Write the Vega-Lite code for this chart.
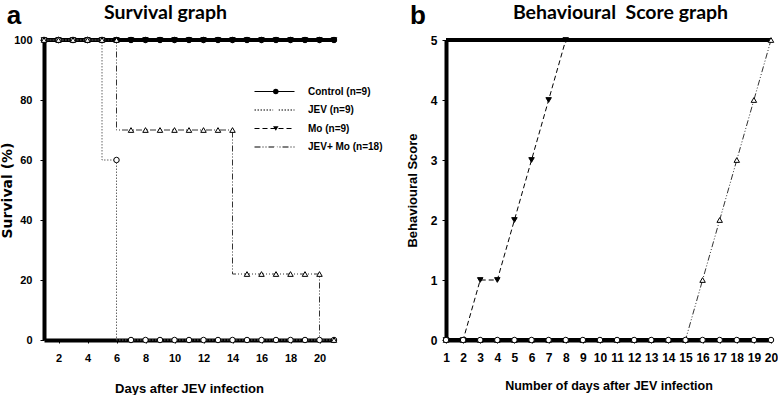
{
  "$schema": "https://vega.github.io/schema/vega-lite/v6.json",
  "padding": {"left": 0, "top": 2, "right": 0, "bottom": 0},
  "background": "white",
  "config": {
    "view": {"stroke": null},
    "axis": {"grid": false, "domainColor": "black", "tickColor": "black", "labelColor": "black", "titleColor": "black"}
  },
  "datasets": {
    "survival": [
      {"group": "Control (n=9)", "day": 1, "survival": 100}, {"group": "Control (n=9)", "day": 2, "survival": 100},
      {"group": "Control (n=9)", "day": 3, "survival": 100}, {"group": "Control (n=9)", "day": 4, "survival": 100},
      {"group": "Control (n=9)", "day": 5, "survival": 100}, {"group": "Control (n=9)", "day": 6, "survival": 100},
      {"group": "Control (n=9)", "day": 7, "survival": 100}, {"group": "Control (n=9)", "day": 8, "survival": 100},
      {"group": "Control (n=9)", "day": 9, "survival": 100}, {"group": "Control (n=9)", "day": 10, "survival": 100},
      {"group": "Control (n=9)", "day": 11, "survival": 100}, {"group": "Control (n=9)", "day": 12, "survival": 100},
      {"group": "Control (n=9)", "day": 13, "survival": 100}, {"group": "Control (n=9)", "day": 14, "survival": 100},
      {"group": "Control (n=9)", "day": 15, "survival": 100}, {"group": "Control (n=9)", "day": 16, "survival": 100},
      {"group": "Control (n=9)", "day": 17, "survival": 100}, {"group": "Control (n=9)", "day": 18, "survival": 100},
      {"group": "Control (n=9)", "day": 19, "survival": 100}, {"group": "Control (n=9)", "day": 20, "survival": 100},
      {"group": "Control (n=9)", "day": 21, "survival": 100},
      {"group": "Mo (n=9)", "day": 1, "survival": 100}, {"group": "Mo (n=9)", "day": 2, "survival": 100},
      {"group": "Mo (n=9)", "day": 3, "survival": 100}, {"group": "Mo (n=9)", "day": 4, "survival": 100},
      {"group": "Mo (n=9)", "day": 5, "survival": 100}, {"group": "Mo (n=9)", "day": 6, "survival": 100},
      {"group": "Mo (n=9)", "day": 7, "survival": 100}, {"group": "Mo (n=9)", "day": 8, "survival": 100},
      {"group": "Mo (n=9)", "day": 9, "survival": 100}, {"group": "Mo (n=9)", "day": 10, "survival": 100},
      {"group": "Mo (n=9)", "day": 11, "survival": 100}, {"group": "Mo (n=9)", "day": 12, "survival": 100},
      {"group": "Mo (n=9)", "day": 13, "survival": 100}, {"group": "Mo (n=9)", "day": 14, "survival": 100},
      {"group": "Mo (n=9)", "day": 15, "survival": 100}, {"group": "Mo (n=9)", "day": 16, "survival": 100},
      {"group": "Mo (n=9)", "day": 17, "survival": 100}, {"group": "Mo (n=9)", "day": 18, "survival": 100},
      {"group": "Mo (n=9)", "day": 19, "survival": 100}, {"group": "Mo (n=9)", "day": 20, "survival": 100},
      {"group": "Mo (n=9)", "day": 21, "survival": 100},
      {"group": "JEV (n=9)", "day": 1, "survival": 100}, {"group": "JEV (n=9)", "day": 2, "survival": 100},
      {"group": "JEV (n=9)", "day": 3, "survival": 100}, {"group": "JEV (n=9)", "day": 4, "survival": 100},
      {"group": "JEV (n=9)", "day": 5, "survival": 100}, {"group": "JEV (n=9)", "day": 6, "survival": 60},
      {"group": "JEV (n=9)", "day": 7, "survival": 0}, {"group": "JEV (n=9)", "day": 8, "survival": 0},
      {"group": "JEV (n=9)", "day": 9, "survival": 0}, {"group": "JEV (n=9)", "day": 10, "survival": 0},
      {"group": "JEV (n=9)", "day": 11, "survival": 0}, {"group": "JEV (n=9)", "day": 12, "survival": 0},
      {"group": "JEV (n=9)", "day": 13, "survival": 0}, {"group": "JEV (n=9)", "day": 14, "survival": 0},
      {"group": "JEV (n=9)", "day": 15, "survival": 0}, {"group": "JEV (n=9)", "day": 16, "survival": 0},
      {"group": "JEV (n=9)", "day": 17, "survival": 0}, {"group": "JEV (n=9)", "day": 18, "survival": 0},
      {"group": "JEV (n=9)", "day": 19, "survival": 0}, {"group": "JEV (n=9)", "day": 20, "survival": 0},
      {"group": "JEV (n=9)", "day": 21, "survival": 0},
      {"group": "JEV+ Mo (n=18)", "day": 1, "survival": 100}, {"group": "JEV+ Mo (n=18)", "day": 2, "survival": 100},
      {"group": "JEV+ Mo (n=18)", "day": 3, "survival": 100}, {"group": "JEV+ Mo (n=18)", "day": 4, "survival": 100},
      {"group": "JEV+ Mo (n=18)", "day": 5, "survival": 100}, {"group": "JEV+ Mo (n=18)", "day": 6, "survival": 100},
      {"group": "JEV+ Mo (n=18)", "day": 7, "survival": 70}, {"group": "JEV+ Mo (n=18)", "day": 8, "survival": 70},
      {"group": "JEV+ Mo (n=18)", "day": 9, "survival": 70}, {"group": "JEV+ Mo (n=18)", "day": 10, "survival": 70},
      {"group": "JEV+ Mo (n=18)", "day": 11, "survival": 70}, {"group": "JEV+ Mo (n=18)", "day": 12, "survival": 70},
      {"group": "JEV+ Mo (n=18)", "day": 13, "survival": 70}, {"group": "JEV+ Mo (n=18)", "day": 14, "survival": 70},
      {"group": "JEV+ Mo (n=18)", "day": 15, "survival": 22}, {"group": "JEV+ Mo (n=18)", "day": 16, "survival": 22},
      {"group": "JEV+ Mo (n=18)", "day": 17, "survival": 22}, {"group": "JEV+ Mo (n=18)", "day": 18, "survival": 22},
      {"group": "JEV+ Mo (n=18)", "day": 19, "survival": 22}, {"group": "JEV+ Mo (n=18)", "day": 20, "survival": 22},
      {"group": "JEV+ Mo (n=18)", "day": 21, "survival": 0}
    ],
    "behaviour": [
      {"group": "Mo", "day": 1, "score": 0}, {"group": "Mo", "day": 2, "score": 0},
      {"group": "Mo", "day": 3, "score": 1}, {"group": "Mo", "day": 4, "score": 1},
      {"group": "Mo", "day": 5, "score": 2}, {"group": "Mo", "day": 6, "score": 3},
      {"group": "Mo", "day": 7, "score": 4}, {"group": "Mo", "day": 8, "score": 5},
      {"group": "JEV+ Mo", "day": 1, "score": 0}, {"group": "JEV+ Mo", "day": 2, "score": 0},
      {"group": "JEV+ Mo", "day": 3, "score": 0}, {"group": "JEV+ Mo", "day": 4, "score": 0},
      {"group": "JEV+ Mo", "day": 5, "score": 0}, {"group": "JEV+ Mo", "day": 6, "score": 0},
      {"group": "JEV+ Mo", "day": 7, "score": 0}, {"group": "JEV+ Mo", "day": 8, "score": 0},
      {"group": "JEV+ Mo", "day": 9, "score": 0}, {"group": "JEV+ Mo", "day": 10, "score": 0},
      {"group": "JEV+ Mo", "day": 11, "score": 0}, {"group": "JEV+ Mo", "day": 12, "score": 0},
      {"group": "JEV+ Mo", "day": 13, "score": 0}, {"group": "JEV+ Mo", "day": 14, "score": 0},
      {"group": "JEV+ Mo", "day": 15, "score": 0}, {"group": "JEV+ Mo", "day": 16, "score": 1},
      {"group": "JEV+ Mo", "day": 17, "score": 2}, {"group": "JEV+ Mo", "day": 18, "score": 3},
      {"group": "JEV+ Mo", "day": 19, "score": 4}, {"group": "JEV+ Mo", "day": 20, "score": 5},
      {"group": "Control", "day": 1, "score": 0}, {"group": "Control", "day": 2, "score": 0},
      {"group": "Control", "day": 3, "score": 0}, {"group": "Control", "day": 4, "score": 0},
      {"group": "Control", "day": 5, "score": 0}, {"group": "Control", "day": 6, "score": 0},
      {"group": "Control", "day": 7, "score": 0}, {"group": "Control", "day": 8, "score": 0},
      {"group": "Control", "day": 9, "score": 0}, {"group": "Control", "day": 10, "score": 0},
      {"group": "Control", "day": 11, "score": 0}, {"group": "Control", "day": 12, "score": 0},
      {"group": "Control", "day": 13, "score": 0}, {"group": "Control", "day": 14, "score": 0},
      {"group": "Control", "day": 15, "score": 0}, {"group": "Control", "day": 16, "score": 0},
      {"group": "Control", "day": 17, "score": 0}, {"group": "Control", "day": 18, "score": 0},
      {"group": "Control", "day": 19, "score": 0}, {"group": "Control", "day": 20, "score": 0}
    ]
  },
  "bounds": "flush",
  "spacing": 112,
  "resolve": {
    "scale": {"strokeDash": "independent", "color": "independent", "strokeWidth": "independent", "shape": "independent", "fill": "independent"},
    "legend": {"strokeDash": "independent", "color": "independent", "strokeWidth": "independent", "shape": "independent", "fill": "independent"}
  },
  "hconcat": [
    {
      "width": 290,
      "height": 300,
      "data": {"name": "survival"},
      "resolve": {"axis": {"x": "independent", "y": "independent"}},
      "layer": [
        {
          "mark": {"type": "line", "interpolate": "step-before"},
          "encoding": {
            "x": {
              "field": "day", "type": "quantitative",
              "scale": {"domain": [1, 21], "nice": false, "zero": false},
              "axis": {
                "orient": "bottom", "values": [2, 4, 6, 8, 10, 12, 14, 16, 18, 20],
                "title": "Days after JEV infection",
                "titleFont": "Liberation Sans", "titleFontSize": 13, "titleFontWeight": "bold",
                "titleY": 48, "titleBaseline": "middle",
                "labelFont": "Liberation Sans", "labelFontSize": 11, "labelFontWeight": "bold",
                "labelPadding": 9, "tickSize": 3, "domainWidth": 4, "labelFlush": false
              }
            },
            "y": {
              "field": "survival", "type": "quantitative",
              "scale": {"domain": [0, 100], "nice": false},
              "axis": {
                "orient": "left", "values": [0, 20, 40, 60, 80, 100],
                "title": "Survival (%)",
                "titleFont": "DejaVu Sans", "titleFontSize": 14, "titleFontWeight": "bold",
                "titleX": -37, "titleY": 150, "titleBaseline": "middle", "titleAlign": "center",
                "labelFont": "Liberation Sans", "labelFontSize": 11, "labelFontWeight": "bold",
                "labelPadding": 8, "tickSize": 4, "domainWidth": 4
              }
            },
            "strokeDash": {
              "field": "group", "type": "nominal",
              "scale": {"domain": ["Control (n=9)", "JEV (n=9)", "Mo (n=9)", "JEV+ Mo (n=18)"], "range": [[1, 0], [1.5, 1.5], [5, 3], [6, 2, 1, 2, 1, 2]]},
              "legend": {
                "orient": "none", "legendX": 225.5, "legendY": 46.5, "title": null, "padding": 0,
                "symbolType": "M-5,0H5", "symbolSize": 64, "symbolStrokeWidth": 1.2, "symbolStrokeColor": "black",
                "labelFont": "Liberation Sans", "labelFontWeight": "bold", "labelFontSize": 10, "labelColor": "black",
                "labelOffset": 28.5, "rowPadding": 8.5
              }
            },
            "color": {
              "field": "group", "type": "nominal",
              "scale": {"domain": ["JEV+ Mo (n=18)", "Mo (n=9)", "JEV (n=9)", "Control (n=9)"], "range": ["#333333", "black", "#666666", "black"]},
              "legend": null
            },
            "strokeWidth": {
              "field": "group", "type": "nominal",
              "scale": {"type": "ordinal", "domain": ["JEV (n=9)", "Control (n=9)", "Mo (n=9)", "JEV+ Mo (n=18)"], "range": [1, 4, 1, 1]},
              "legend": null
            }
          }
        },
        {
          "mark": {"type": "point", "filled": false, "color": "black", "strokeWidth": 1, "size": 30, "opacity": 1},
          "encoding": {
            "x": {
              "field": "day", "type": "quantitative",
              "axis": {
                "orient": "top", "title": "Survival graph", "labels": false, "ticks": false, "domain": false,
                "titleFont": "Lato", "titleFontSize": 19.5, "titleFontWeight": "bold",
                "titleX": 121, "titleY": -22, "titleBaseline": "alphabetic", "titleAlign": "center"
              }
            },
            "y": {
              "field": "survival", "type": "quantitative",
              "axis": {
                "orient": "right", "title": "a", "titleAngle": 0, "labels": false, "ticks": false, "domain": false,
                "titleFont": "Liberation Sans", "titleFontSize": 26, "titleFontWeight": "bold",
                "titleX": -320.5, "titleY": -17, "titleBaseline": "alphabetic", "titleAlign": "center"
              }
            },
            "shape": {
              "field": "group", "type": "nominal",
              "scale": {"domain": ["Mo (n=9)", "Control (n=9)", "JEV+ Mo (n=18)", "JEV (n=9)"], "range": ["triangle-down", "circle", "triangle-up", "circle"]},
              "legend": {
                "orient": "none", "legendX": 226.8, "legendY": 46.5, "title": null, "padding": 0,
                "values": ["Control (n=9)", "JEV (n=9)", "Mo (n=9)", "JEV+ Mo (n=18)"],
                "symbolSize": 30, "symbolStrokeWidth": 1, "symbolStrokeColor": "black", "symbolOpacity": 1,
                "labelFont": "Liberation Sans", "labelFontSize": 10, "labelExpr": "''", "rowPadding": 8.5
              }
            },
            "fill": {
              "field": "group", "type": "nominal",
              "scale": {"domain": ["Mo (n=9)", "Control (n=9)", "JEV+ Mo (n=18)", "JEV (n=9)"], "range": ["black", "black", "white", "white"]},
              "legend": {
                "orient": "none", "legendX": 226.8, "legendY": 46.5, "title": null, "padding": 0,
                "values": ["Control (n=9)", "JEV (n=9)", "Mo (n=9)", "JEV+ Mo (n=18)"],
                "symbolSize": 30, "symbolStrokeWidth": 1, "symbolStrokeColor": "black", "symbolOpacity": 1,
                "labelFont": "Liberation Sans", "labelFontSize": 10, "labelExpr": "''", "rowPadding": 8.5
              }
            }
          }
        }
      ]
    },
    {
      "width": 325,
      "height": 300,
      "data": {"name": "behaviour"},
      "resolve": {"axis": {"x": "independent", "y": "independent"}},
      "layer": [
        {
          "mark": {"type": "line"},
          "encoding": {
            "x": {
              "field": "day", "type": "quantitative",
              "scale": {"domain": [1, 20], "nice": false, "zero": false},
              "axis": {
                "orient": "bottom", "values": [1, 2, 3, 4, 5, 6, 7, 8, 9, 10, 11, 12, 13, 14, 15, 16, 17, 18, 19, 20],
                "title": "Number of days after JEV infection",
                "titleFont": "Liberation Sans", "titleFontSize": 12.5, "titleFontWeight": "bold",
                "titleY": 45, "titleBaseline": "middle",
                "labelFont": "Liberation Sans", "labelFontSize": 12, "labelFontWeight": "bold",
                "labelPadding": 9, "tickSize": 3, "domainWidth": 4, "labelFlush": false, "labelOverlap": false
              }
            },
            "y": {
              "field": "score", "type": "quantitative",
              "scale": {"domain": [0, 5], "nice": false},
              "axis": {
                "orient": "left", "values": [0, 1, 2, 3, 4, 5],
                "title": "Behavioural Score",
                "titleFont": "Liberation Sans", "titleFontSize": 13, "titleFontWeight": "bold",
                "titleX": -34, "titleY": 150, "titleBaseline": "middle", "titleAlign": "center",
                "labelFont": "Liberation Sans", "labelFontSize": 12, "labelFontWeight": "bold",
                "labelPadding": 5, "tickSize": 4, "domainWidth": 4
              }
            },
            "strokeDash": {
              "field": "group", "type": "nominal",
              "scale": {"domain": ["Control", "Mo", "JEV+ Mo"], "range": [[1, 0], [5, 3], [6, 2, 1, 2, 1, 2]]},
              "legend": null
            },
            "color": {
              "field": "group", "type": "nominal",
              "scale": {"domain": ["Control", "Mo", "JEV+ Mo"], "range": ["black", "black", "#333333"]},
              "legend": null
            },
            "strokeWidth": {
              "field": "group", "type": "nominal",
              "scale": {"type": "ordinal", "domain": ["Control", "Mo", "JEV+ Mo"], "range": [4, 1, 1]},
              "legend": null
            }
          }
        },
        {
          "data": {"values": [{"score": 5}]},
          "mark": {"type": "rule", "strokeWidth": 4, "color": "black"},
          "encoding": {
            "y": {"field": "score", "type": "quantitative", "axis": null}
          }
        },
        {
          "mark": {"type": "point", "filled": false, "color": "black", "strokeWidth": 1, "size": 30, "opacity": 1},
          "encoding": {
            "x": {
              "field": "day", "type": "quantitative",
              "axis": {
                "orient": "top", "title": "Behavioural\u00a0 Score graph", "labels": false, "ticks": false, "domain": false,
                "titleFont": "Lato", "titleFontSize": 19.5, "titleFontWeight": "bold",
                "titleX": 174, "titleY": -22, "titleBaseline": "alphabetic", "titleAlign": "center"
              }
            },
            "y": {
              "field": "score", "type": "quantitative",
              "axis": {
                "orient": "right", "title": "b", "titleAngle": 0, "labels": false, "ticks": false, "domain": false,
                "titleFont": "Liberation Sans", "titleFontSize": 26, "titleFontWeight": "bold",
                "titleX": -353.5, "titleY": -17, "titleBaseline": "alphabetic", "titleAlign": "center"
              }
            },
            "shape": {
              "field": "group", "type": "nominal",
              "scale": {"domain": ["Control", "Mo", "JEV+ Mo"], "range": ["circle", "triangle-down", "triangle-up"]},
              "legend": null
            },
            "fill": {
              "field": "group", "type": "nominal",
              "scale": {"domain": ["Control", "Mo", "JEV+ Mo"], "range": ["white", "black", "white"]},
              "legend": null
            }
          }
        }
      ]
    }
  ]
}
